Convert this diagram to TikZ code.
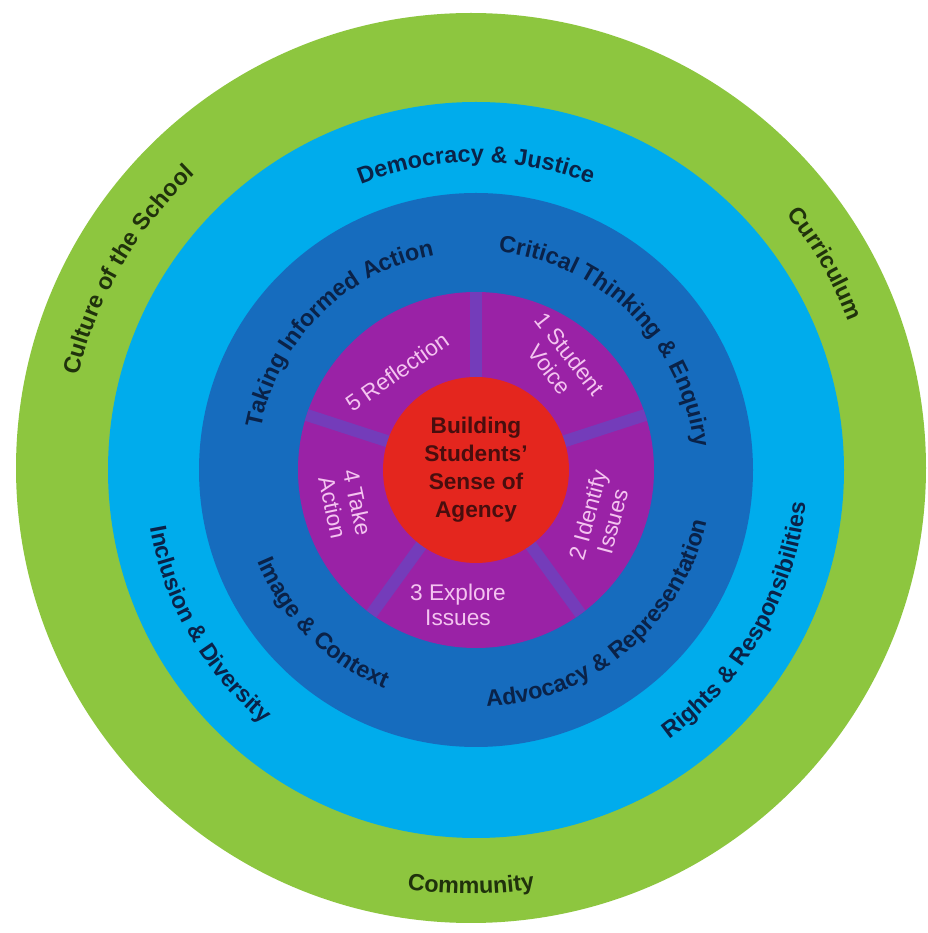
\documentclass[tikz,border=0pt]{standalone}
\usepackage{fontspec}
\setmainfont{Liberation Sans}
\usetikzlibrary{decorations.text}

\definecolor{ringgreen}{RGB}{141,198,63}
\definecolor{ringcyan}{RGB}{0,172,236}
\definecolor{ringblue}{RGB}{22,108,190}
\definecolor{ringpurple}{RGB}{154,34,166}
\definecolor{ringviolet}{RGB}{116,60,186}
\definecolor{corered}{RGB}{228,38,30}
\definecolor{greentext}{RGB}{32,50,12}
\definecolor{bluetext}{RGB}{10,34,72}
\definecolor{steptext}{RGB}{244,196,240}
\definecolor{coretext}{RGB}{72,14,14}

\newcommand{\ringfont}{\bfseries\fontsize{17.5}{20}\selectfont}

\tikzset{every picture/.style={line width=0.75pt}}
\tikzset{
  ringlabel/.style={decoration={text along path, text align=center, text={#1}}, decorate},
  steplabel/.style={text=steptext, font=\fontsize{17}{19}\selectfont, align=center, inner sep=0.75pt},
  divider/.style={draw=ringviolet, line width=9},
}

\begin{document}
\begin{tikzpicture}[x=0.75pt,y=0.75pt]
%set diagram: 928 wide, 933 high
\useasboundingbox [fill=white] (0,0) rectangle (928,933);

%Shape: Circle
\fill [ringgreen] (471,465) circle (455) ;
%Shape: Circle
\fill [ringcyan] (476,463) circle (368) ;
%Shape: Circle
\fill [ringblue] (476,463) circle (277) ;
%Shape: Circle
\fill [ringpurple] (476,463) circle (178) ;

%Straight Lines
\draw [divider] (476,463) -- ++(90:178) ;
%Straight Lines
\draw [divider] (476,463) -- ++(18:178) ;
%Straight Lines
\draw [divider] (476,463) -- ++(-54:178) ;
%Straight Lines
\draw [divider] (476,463) -- ++(-126:178) ;
%Straight Lines
\draw [divider] (476,463) -- ++(162:178) ;

%Shape: Circle
\fill [corered] (476,463) circle (93) ;

% Text Path - outer ring
\path [ringlabel={|\ringfont\color{greentext}|Culture of the School}] (471,465) ++(175:403) arc [start angle=175, end angle=125, radius=403] ;
% Text Path
\path [ringlabel={|\ringfont\color{greentext}|Curriculum}] (471,465) ++(50:405) arc [start angle=50, end angle=10, radius=405] ;
% Text Path
\path [ringlabel={|\ringfont\color{greentext}|Community}] (471,465) ++(245:426) arc [start angle=245, end angle=295, radius=426] ;

% Text Path - light blue ring
\path [ringlabel={|\ringfont\color{bluetext}|Democracy {\&} Justice}] (476,463) ++(125:308) arc [start angle=125, end angle=55, radius=308] ;
% Text Path
\path [ringlabel={|\ringfont\color{bluetext}|Inclusion {\&} Diversity}] (476,463) ++(165:331) arc [start angle=165, end angle=255, radius=331] ;
% Text Path
\path [ringlabel={|\ringfont\color{bluetext}|Rights {\&} Responsibilities}] (476,463) ++(285:331) arc [start angle=285, end angle=375, radius=331] ;

% Text Path - dark blue ring
\path [ringlabel={|\ringfont\color{bluetext}|Taking Informed Action}] (476,463) ++(195:219) arc [start angle=195, end angle=75, radius=219] ;
% Text Path
\path [ringlabel={|\ringfont\color{bluetext}|Critical Thinking {\&} Enquiry}] (476,463) ++(105:219) arc [start angle=105, end angle=-15, radius=219] ;
% Text Path
\path [ringlabel={|\ringfont\color{bluetext}|Advocacy {\&} Representation}] (476,463) ++(250:237) arc [start angle=250, end angle=370, radius=237] ;
% Text Path
\path [ringlabel={|\ringfont\color{bluetext}|Image {\&} Context}] (476,463) ++(170:237) arc [start angle=170, end angle=280, radius=237] ;

% Text Node
\draw (560,571) node (voice) [steplabel, rotate=-52] {1 Student\\Voice};
% Text Node
\draw (600,415) node (identify) [steplabel, rotate=75] {2 Identify\\Issues};
% Text Node
\draw (458,328) node (explore) [steplabel] {3 Explore\\Issues};
% Text Node
\draw (345,428) node (action) [steplabel, rotate=-78] {4 Take\\Action};
% Text Node
\draw (397,561) node (reflection) [steplabel, rotate=35] {5 Reflection};
% Text Node
\draw (476,463) node (agency) [text=coretext, font=\bfseries\fontsize{17}{21}\selectfont, align=center, inner sep=0.75pt] {Building\\Students'\\Sense of\\Agency};

\end{tikzpicture}
\end{document}
